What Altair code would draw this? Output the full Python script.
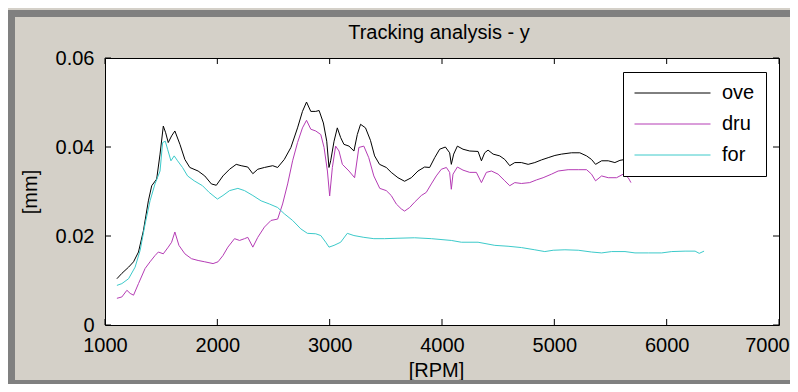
import altair as alt
import pandas as pd

# ---------------- data ----------------
series_names = ["ove", "dru", "for"]
series_colors = ["#000000", "#b53cb5", "#3ccaca"]

ove_rpm = [1106, 1150, 1210, 1254, 1298, 1342, 1386, 1416, 1460, 1490, 1519, 1540, 1563,
           1593, 1622, 1667, 1711, 1755, 1829, 1888, 1947, 1991, 2050, 2109, 2168, 2212,
           2271, 2316, 2360, 2419, 2493, 2537, 2596, 2655, 2714, 2758, 2794, 2832, 2876,
           2906, 2944, 2974, 2994, 3009, 3039, 3068, 3098, 3127, 3172, 3216, 3246, 3275,
           3319, 3363, 3400, 3444, 3504, 3548, 3608, 3667, 3727, 3786, 3845, 3890, 3935,
           3979, 4030, 4068, 4083, 4104, 4137, 4187, 4247, 4321, 4351, 4380, 4410, 4455,
           4514, 4559, 4603, 4648, 4707, 4767, 4826, 4886, 4945, 5005, 5064, 5153, 5227,
           5287, 5331, 5367, 5421, 5480, 5539, 5584, 5629, 5680]
ove_val = [0.0104, 0.0116, 0.0130, 0.0142, 0.0164, 0.0212, 0.0279, 0.0313, 0.0328, 0.0384,
           0.0447, 0.0432, 0.0410, 0.0425, 0.0436, 0.0406, 0.0372, 0.0354, 0.0346, 0.0335,
           0.0317, 0.0314, 0.0335, 0.0350, 0.0361, 0.0358, 0.0355, 0.0340, 0.0350, 0.0354,
           0.0358, 0.0354, 0.0372, 0.0399, 0.0443, 0.0480, 0.0501, 0.0480, 0.0480, 0.0482,
           0.0454, 0.0413, 0.0354, 0.0369, 0.0413, 0.0443, 0.0421, 0.0406, 0.0402, 0.0391,
           0.0428, 0.0451, 0.0443, 0.0415, 0.0380, 0.0361, 0.0354, 0.0343, 0.0331, 0.0323,
           0.0331, 0.0346, 0.0355, 0.0354, 0.0376, 0.0395, 0.0400, 0.0387, 0.0361, 0.0384,
           0.0402, 0.0395, 0.0391, 0.0390, 0.0369, 0.0387, 0.0393, 0.0384, 0.0380, 0.0372,
           0.0358, 0.0365, 0.0365, 0.0361, 0.0365, 0.0371, 0.0376, 0.0381, 0.0384, 0.0387,
           0.0387, 0.0380, 0.0372, 0.0361, 0.0369, 0.0369, 0.0365, 0.0370, 0.0372, 0.0375]

dru_rpm = [1106, 1150, 1195, 1224, 1254, 1298, 1357, 1401, 1445, 1475, 1519, 1563, 1593,
           1622, 1658, 1711, 1770, 1829, 1888, 1962, 2006, 2050, 2094, 2153, 2198, 2242,
           2271, 2316, 2360, 2419, 2478, 2537, 2581, 2626, 2670, 2714, 2758, 2794, 2832,
           2876, 2921, 2950, 2980, 3000, 3024, 3053, 3083, 3113, 3172, 3222, 3260, 3304,
           3348, 3393, 3446, 3504, 3548, 3593, 3637, 3667, 3712, 3756, 3816, 3860, 3905,
           3949, 3994, 4039, 4068, 4083, 4098, 4137, 4187, 4247, 4306, 4351, 4395, 4440,
           4499, 4559, 4603, 4648, 4707, 4781, 4841, 4900, 4975, 5034, 5123, 5213, 5287,
           5331, 5367, 5421, 5480, 5554, 5613, 5658, 5682]
dru_val = [0.0060, 0.0063, 0.0078, 0.0071, 0.0067, 0.0093, 0.0127, 0.0142, 0.0156, 0.0164,
           0.0160, 0.0175, 0.0186, 0.0209, 0.0179, 0.0160, 0.0149, 0.0145, 0.0142, 0.0138,
           0.0142, 0.0156, 0.0175, 0.0194, 0.0190, 0.0194, 0.0197, 0.0175, 0.0197, 0.0220,
           0.0235, 0.0238, 0.0272, 0.0317, 0.0369, 0.0410, 0.0443, 0.0460, 0.0440, 0.0436,
           0.0428, 0.0399, 0.0346, 0.0290, 0.0354, 0.0402, 0.0391, 0.0361, 0.0346, 0.0331,
           0.0399, 0.0402, 0.0376, 0.0335, 0.0307, 0.0302, 0.0291, 0.0272, 0.0261, 0.0256,
           0.0264, 0.0276, 0.0291, 0.0298, 0.0317, 0.0335, 0.0350, 0.0354, 0.0343, 0.0305,
           0.0339, 0.0355, 0.0348, 0.0343, 0.0343, 0.0320, 0.0343, 0.0346, 0.0339, 0.0324,
           0.0313, 0.0320, 0.0318, 0.0320, 0.0326, 0.0331, 0.0339, 0.0346, 0.0349, 0.0349,
           0.0349, 0.0339, 0.0324, 0.0335, 0.0331, 0.0331, 0.0339, 0.0331, 0.0320]

for_rpm = [1106, 1150, 1210, 1268, 1313, 1357, 1401, 1445, 1490, 1513, 1537, 1557, 1587,
           1616, 1646, 1690, 1735, 1794, 1868, 1927, 2001, 2050, 2109, 2183, 2242, 2316,
           2390, 2463, 2537, 2596, 2670, 2743, 2802, 2876, 2921, 2965, 2994, 3039, 3098,
           3157, 3216, 3304, 3393, 3489, 3608, 3756, 3905, 4083, 4172, 4321, 4470, 4588,
           4707, 4826, 4915, 4990, 5094, 5213, 5331, 5421, 5510, 5629, 5718, 5837, 5956,
           6045, 6164, 6253, 6290, 6333]
for_val = [0.0089, 0.0093, 0.0104, 0.0130, 0.0168, 0.0227, 0.0279, 0.0317, 0.0346, 0.0410,
           0.0413, 0.0395, 0.0369, 0.0380, 0.0369, 0.0354, 0.0335, 0.0324, 0.0313, 0.0298,
           0.0283, 0.0291, 0.0302, 0.0307, 0.0302, 0.0291, 0.0279, 0.0272, 0.0264, 0.0250,
           0.0235, 0.0216, 0.0206, 0.0205, 0.0201, 0.0186, 0.0175, 0.0179, 0.0186, 0.0206,
           0.0201, 0.0197, 0.0194, 0.0194, 0.0195, 0.0196, 0.0194, 0.0190, 0.0186, 0.0186,
           0.0179, 0.0177, 0.0174, 0.0169, 0.0165, 0.0168, 0.0169, 0.0168, 0.0164, 0.0162,
           0.0165, 0.0165, 0.0162, 0.0162, 0.0162, 0.0165, 0.0166, 0.0166, 0.0161, 0.0166]

x_ticks = [1000, 2000, 3000, 4000, 5000, 6000, 7000]
y_ticks = [0, 0.02, 0.04, 0.06]

# ---------------- tables ----------------
rows = []
for name, rr, vv in zip(series_names, [ove_rpm, dru_rpm, for_rpm], [ove_val, dru_val, for_val]):
    for r, v in zip(rr, vv):
        rows.append({"series": name, "rpm": r, "val": v})
df = pd.DataFrame(rows)
xt = pd.DataFrame({"rpm": x_ticks})
yt = pd.DataFrame({"val": y_ticks})

W, H = 674, 267
FONT = "Liberation Sans"
TL = 6  # inward tick length

xs = alt.Scale(domain=[1000, 7000], nice=False, zero=False)
ys = alt.Scale(domain=[0, 0.06], nice=False, zero=False)

frame = alt.Chart(alt.Data(values=[{"k": 1}])).mark_rect(
    filled=False, stroke="#808080", strokeWidth=7
).encode(
    x=alt.value(-93.5), x2=alt.value(720), y=alt.value(-44.5), y2=alt.value(325.5)
)

lines = alt.Chart(df).mark_line(strokeWidth=1, clip=True).encode(
    x=alt.X("rpm:Q", scale=xs, axis=alt.Axis(
        values=x_ticks, format="d", title="[RPM]", ticks=False, tickSize=0, domain=False,
        grid=False, labelPadding=10, labelFlush=False, labelOverlap=False,
        labelOffset={"condition": {"test": "datum.value == 7000", "value": -12}, "value": 0},
        titleX=331, titleY=45, titleBaseline="middle", titleAlign="center")),
    y=alt.Y("val:Q", scale=ys, axis=alt.Axis(
        values=y_ticks, format=".2~f", title="[mm]", ticks=False, tickSize=0, domain=False,
        grid=False, labelPadding=11, labelFlush=False, labelOverlap=False,
        titleX=-75, titleY=133.5, titleBaseline="middle", titleAlign="center", titleAngle=270)),
    color=alt.Color("series:N", scale=alt.Scale(domain=series_names, range=series_colors),
                    sort=series_names,
                    legend=alt.Legend(title=None, orient="none", legendX=518, legendY=14,
                                      padding=11, strokeColor="black", fillColor="white",
                                      symbolType="stroke", symbolSize=5776, symbolStrokeWidth=1,
                                      clipHeight=20, rowPadding=11, labelOffset=11,
                                      labelFontSize=20, labelFont=FONT, labelColor="black",
                                      cornerRadius=0)),
)

tick_b = alt.Chart(xt).mark_rule(color="black", strokeWidth=1).encode(
    x=alt.X("rpm:Q", scale=xs), y=alt.value(H), y2=alt.value(H - TL))
tick_t = alt.Chart(xt).mark_rule(color="black", strokeWidth=1).encode(
    x=alt.X("rpm:Q", scale=xs), y=alt.value(0), y2=alt.value(TL))
tick_l = alt.Chart(yt).mark_rule(color="black", strokeWidth=1).encode(
    y=alt.Y("val:Q", scale=ys), x=alt.value(0), x2=alt.value(TL))
tick_r = alt.Chart(yt).mark_rule(color="black", strokeWidth=1).encode(
    y=alt.Y("val:Q", scale=ys), x=alt.value(W), x2=alt.value(W - TL))

chart = alt.layer(frame, lines, tick_b, tick_t, tick_l, tick_r).properties(
    width=W, height=H,
    title=alt.TitleParams("Tracking analysis - y", fontSize=20, font=FONT, fontWeight="normal",
                          color="black", anchor="middle", offset=20, baseline="alphabetic",
                          dx=-3, dy=69),
    background="#d4d0c8",
    padding={"left": 97, "top": 50, "right": 11, "bottom": 59},
    autosize=alt.AutoSizeParams(type="none"),
).configure_view(
    fill="white", stroke="black", strokeWidth=1
).configure_axis(
    labelFont=FONT, labelFontSize=20, labelColor="black",
    titleFont=FONT, titleFontSize=20, titleColor="black", titleFontWeight="normal"
)

chart.save("out.html", embed_options={"renderer": "svg", "actions": False})
